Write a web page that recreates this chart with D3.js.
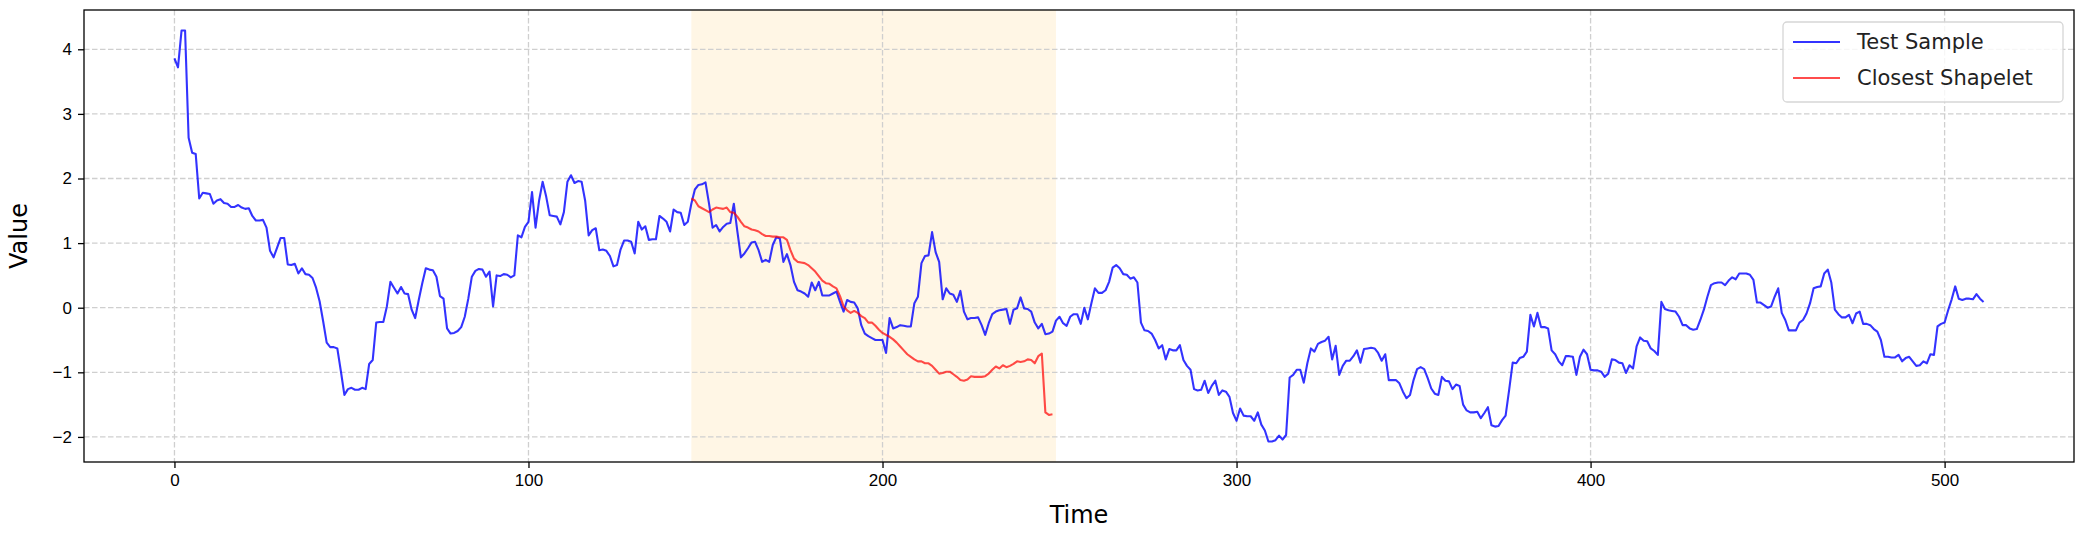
<!DOCTYPE html>
<html>
<head>
<meta charset="utf-8">
<script src="https://cdnjs.cloudflare.com/ajax/libs/d3/7.8.5/d3.min.js"></script>
<style>
  body { margin: 0; background: #fff; }
  svg { display: block; font-family: "DejaVu Sans", sans-serif; }
  .axis text { font-size: 17px; fill: #000; }
  .axis path, .axis line { stroke: #000; stroke-width: 1.3; }
  .grid line { stroke: #cfcfcf; stroke-width: 1.3; stroke-dasharray: 5.5,2.5; }
</style>
</head>
<body>
<script>
// Test sample values, one per time step (0..511)
var sampleValues = [
  3.86, 3.72, 4.29, 4.29, 2.63, 2.40, 2.38, 1.69, 1.78, 1.77,
  1.76, 1.61, 1.66, 1.68, 1.62, 1.61, 1.56, 1.56, 1.59, 1.55,
  1.53, 1.54, 1.42, 1.35, 1.35, 1.36, 1.24, 0.88, 0.78, 0.93,
  1.08, 1.08, 0.67, 0.66, 0.68, 0.53, 0.61, 0.52, 0.51, 0.46,
  0.31, 0.10, -0.21, -0.54, -0.61, -0.61, -0.63, -0.98, -1.35, -1.26,
  -1.24, -1.27, -1.27, -1.24, -1.26, -0.87, -0.81, -0.23, -0.22, -0.22,
  0.02, 0.40, 0.31, 0.22, 0.32, 0.22, 0.21, -0.03, -0.16, 0.12,
  0.38, 0.61, 0.59, 0.58, 0.48, 0.18, 0.14, -0.32, -0.40, -0.39,
  -0.36, -0.30, -0.14, 0.14, 0.48, 0.57, 0.60, 0.59, 0.48, 0.56,
  0.02, 0.50, 0.49, 0.52, 0.51, 0.47, 0.50, 1.12, 1.09, 1.25,
  1.33, 1.79, 1.24, 1.66, 1.95, 1.72, 1.43, 1.42, 1.41, 1.29,
  1.48, 1.95, 2.05, 1.93, 1.96, 1.95, 1.66, 1.12, 1.20, 1.23,
  0.89, 0.90, 0.88, 0.80, 0.64, 0.66, 0.90, 1.04, 1.04, 1.02,
  0.84, 1.33, 1.21, 1.26, 1.05, 1.06, 1.06, 1.42, 1.38, 1.33,
  1.18, 1.52, 1.48, 1.47, 1.28, 1.33, 1.61, 1.83, 1.90, 1.91,
  1.94, 1.61, 1.24, 1.28, 1.18, 1.25, 1.30, 1.31, 1.61, 1.18,
  0.78, 0.84, 0.92, 1.01, 1.02, 0.89, 0.71, 0.74, 0.71, 0.97,
  1.09, 1.07, 0.71, 0.83, 0.66, 0.40, 0.27, 0.25, 0.22, 0.17,
  0.39, 0.27, 0.40, 0.19, 0.19, 0.19, 0.22, 0.25, 0.09, -0.06,
  0.12, 0.09, 0.08, -0.01, -0.27, -0.40, -0.44, -0.47, -0.50, -0.50,
  -0.50, -0.70, -0.16, -0.32, -0.30, -0.27, -0.28, -0.29, -0.29, 0.07,
  0.17, 0.69, 0.80, 0.81, 1.17, 0.86, 0.71, 0.13, 0.30, 0.22,
  0.20, 0.09, 0.26, -0.06, -0.18, -0.16, -0.16, -0.15, -0.27, -0.42,
  -0.24, -0.10, -0.06, -0.04, -0.03, -0.02, -0.25, -0.03, -0.01, 0.16,
  -0.01, -0.02, -0.06, -0.23, -0.32, -0.25, -0.41, -0.40, -0.37, -0.20,
  -0.14, -0.24, -0.28, -0.14, -0.10, -0.10, -0.25, 0.00, -0.18, 0.07,
  0.30, 0.23, 0.23, 0.27, 0.40, 0.62, 0.66, 0.61, 0.52, 0.51,
  0.45, 0.47, 0.39, -0.23, -0.35, -0.36, -0.40, -0.50, -0.63, -0.58,
  -0.80, -0.64, -0.66, -0.66, -0.58, -0.81, -0.90, -0.96, -1.26, -1.28,
  -1.27, -1.13, -1.32, -1.21, -1.13, -1.35, -1.28, -1.30, -1.38, -1.63,
  -1.75, -1.56, -1.67, -1.68, -1.68, -1.75, -1.62, -1.81, -1.90, -2.07,
  -2.07, -2.05, -1.98, -2.04, -1.97, -1.08, -1.04, -0.96, -0.96, -1.16,
  -0.86, -0.63, -0.68, -0.56, -0.53, -0.51, -0.45, -0.80, -0.59, -1.04,
  -0.90, -0.82, -0.82, -0.75, -0.66, -0.85, -0.64, -0.63, -0.62, -0.63,
  -0.70, -0.82, -0.72, -1.12, -1.12, -1.12, -1.17, -1.30, -1.40, -1.35,
  -1.12, -0.95, -0.92, -0.95, -1.09, -1.25, -1.33, -1.35, -1.07, -1.13,
  -1.14, -1.26, -1.19, -1.21, -1.50, -1.59, -1.62, -1.62, -1.61, -1.71,
  -1.63, -1.54, -1.82, -1.84, -1.83, -1.74, -1.67, -1.27, -0.85, -0.86,
  -0.78, -0.76, -0.68, -0.11, -0.29, -0.08, -0.30, -0.30, -0.32, -0.66,
  -0.72, -0.83, -0.89, -0.75, -0.75, -0.76, -1.04, -0.76, -0.65, -0.72,
  -0.96, -0.97, -0.97, -0.99, -1.07, -1.02, -0.80, -0.81, -0.85, -0.86,
  -1.01, -0.89, -0.94, -0.60, -0.46, -0.51, -0.52, -0.63, -0.67, -0.73,
  0.09, -0.02, -0.04, -0.05, -0.06, -0.14, -0.27, -0.27, -0.32, -0.34,
  -0.33, -0.19, -0.03, 0.17, 0.35, 0.38, 0.39, 0.39, 0.35, 0.42,
  0.47, 0.44, 0.53, 0.53, 0.53, 0.51, 0.43, 0.08, 0.08, 0.04,
  0.00, 0.02, 0.17, 0.30, -0.08, -0.19, -0.35, -0.35, -0.35, -0.23,
  -0.19, -0.09, 0.07, 0.30, 0.32, 0.33, 0.53, 0.59, 0.39, -0.03,
  -0.10, -0.15, -0.15, -0.11, -0.24, -0.09, -0.06, -0.25, -0.25, -0.27,
  -0.33, -0.37, -0.50, -0.76, -0.76, -0.77, -0.77, -0.73, -0.83, -0.78,
  -0.76, -0.83, -0.90, -0.89, -0.83, -0.86, -0.72, -0.73, -0.29, -0.25,
  -0.23, -0.04, 0.13, 0.33, 0.14, 0.12, 0.14, 0.14, 0.13, 0.21,
  0.14, 0.09
];

// Closest shapelet, starting at time step 146
var shapeletStart = 146;
var shapeletValues = [
  1.69, 1.66, 1.57, 1.54, 1.51, 1.48, 1.52, 1.55, 1.54, 1.53,
  1.55, 1.48, 1.47, 1.41, 1.33, 1.26, 1.24, 1.21, 1.20, 1.18,
  1.14, 1.11, 1.11, 1.10, 1.10, 1.09, 1.09, 1.05, 0.89, 0.76,
  0.71, 0.70, 0.69, 0.66, 0.61, 0.56, 0.49, 0.42, 0.38, 0.37,
  0.33, 0.30, 0.18, 0.02, -0.04, -0.08, -0.05, -0.08, -0.13, -0.16,
  -0.23, -0.23, -0.28, -0.34, -0.39, -0.42, -0.45, -0.49, -0.54, -0.60,
  -0.66, -0.72, -0.76, -0.80, -0.83, -0.83, -0.86, -0.86, -0.90, -0.96,
  -1.02, -1.01, -0.99, -0.99, -1.03, -1.07, -1.12, -1.13, -1.11, -1.06,
  -1.07, -1.07, -1.07, -1.06, -1.02, -0.96, -0.91, -0.94, -0.89, -0.92,
  -0.90, -0.87, -0.83, -0.84, -0.83, -0.80, -0.81, -0.86, -0.75, -0.71,
  -1.62, -1.66, -1.65
];

// Tick values and legend labels
var xTicks = [0, 100, 200, 300, 400, 500];
var yTicks = [-2, -1, 0, 1, 2, 3, 4];
var seriesNames = ["Test Sample", "Closest Shapelet"];

// Figure size and plot area
var w = 2096;
var h = 536;
var margin = {left: 84, top: 10, right: 22, bottom: 74};
var plotW = w - margin.left - margin.right;
var plotH = h - margin.top - margin.bottom;

var svg = d3.select("body")
    .append("svg")
    .attr("width", w)
    .attr("height", h);

var g = svg.append("g")
    .attr("transform", "translate(" + margin.left + "," + margin.top + ")");

// Domains with a 5% margin like matplotlib does
var n = sampleValues.length;
var xPad = (n - 1) * 0.05;
var allValues = sampleValues.concat(shapeletValues);
var yMin = d3.min(allValues), yMax = d3.max(allValues);
var yPad = (yMax - yMin) * 0.05;

var xScale = d3.scaleLinear()
    .domain([-xPad, n - 1 + xPad])
    .range([0, plotW]);
var yScale = d3.scaleLinear()
    .domain([yMin - yPad, yMax + yPad])
    .range([plotH, 0]);

// Shaded region where the shapelet matches
g.append("rect")
    .attr("x", xScale(shapeletStart))
    .attr("y", 0)
    .attr("width", xScale(shapeletStart + shapeletValues.length) - xScale(shapeletStart))
    .attr("height", plotH)
    .style("fill", "#ffa500")
    .style("fill-opacity", 0.1);

// Dashed grid lines
g.append("g")
    .attr("class", "grid")
    .selectAll("line")
    .data(xTicks)
    .enter().append("line")
    .attr("x1", function(d) { return xScale(d); })
    .attr("x2", function(d) { return xScale(d); })
    .attr("y1", 0)
    .attr("y2", plotH);
g.append("g")
    .attr("class", "grid")
    .selectAll("line")
    .data(yTicks)
    .enter().append("line")
    .attr("x1", 0)
    .attr("x2", plotW)
    .attr("y1", function(d) { return yScale(d); })
    .attr("y2", function(d) { return yScale(d); });

// Lines
var line = d3.line()
    .x(function(d) { return xScale(d[0]); })
    .y(function(d) { return yScale(d[1]); });

var samplePoints = sampleValues.map(function(v, i) { return [i, v]; });
var shapeletPoints = shapeletValues.map(function(v, i) { return [shapeletStart + i, v]; });

g.append("path")
    .datum(samplePoints)
    .attr("d", line)
    .style("fill", "none")
    .style("stroke", "blue")
    .style("stroke-opacity", 0.8)
    .style("stroke-width", 2.1)
    .style("stroke-linejoin", "round");

g.append("path")
    .datum(shapeletPoints)
    .attr("d", line)
    .style("fill", "none")
    .style("stroke", "red")
    .style("stroke-opacity", 0.7)
    .style("stroke-width", 2.1)
    .style("stroke-linejoin", "round");

// Axes
g.append("g")
    .attr("class", "x axis")
    .attr("transform", "translate(0," + plotH + ")")
    .call(d3.axisBottom(xScale).tickValues(xTicks).tickSize(6).tickPadding(6).tickSizeOuter(0));

g.append("g")
    .attr("class", "y axis")
    .call(d3.axisLeft(yScale).tickValues(yTicks).tickSize(6).tickPadding(6).tickSizeOuter(0)
      .tickFormat(function(d) { return d < 0 ? "\u2212" + Math.abs(d) : d; }));

g.selectAll(".axis .domain").remove();

// Frame around the plot
g.append("rect")
    .attr("width", plotW)
    .attr("height", plotH)
    .style("fill", "none")
    .style("stroke", "#000")
    .style("stroke-width", 1.3);

// Axis labels
svg.append("text")
    .attr("x", margin.left + plotW / 2)
    .attr("y", 523)
    .style("text-anchor", "middle")
    .style("font-size", "24px")
    .text("Time");

svg.append("text")
    .attr("transform", "translate(27," + (margin.top + plotH / 2) + ") rotate(-90)")
    .style("text-anchor", "middle")
    .style("font-size", "24px")
    .text("Value");

// Legend
var legendColors = ["blue", "red"];
var legendOpacity = [0.8, 0.7];
var legend = svg.append("g")
    .attr("transform", "translate(1783,22)");

legend.append("rect")
    .attr("width", 280)
    .attr("height", 80)
    .attr("rx", 4)
    .style("fill", "#fff")
    .style("fill-opacity", 0.8)
    .style("stroke", "#d6d6d6")
    .style("stroke-width", 1.3);

var items = legend.selectAll(".item")
    .data(seriesNames)
    .enter().append("g")
    .attr("class", "item")
    .attr("transform", function(d, i) { return "translate(0," + (20 + i * 36) + ")"; });

items.append("line")
    .attr("x1", 10)
    .attr("x2", 57)
    .style("stroke", function(d, i) { return legendColors[i]; })
    .style("stroke-opacity", function(d, i) { return legendOpacity[i]; })
    .style("stroke-width", 2.1);

items.append("text")
    .attr("x", 74)
    .attr("dy", "0.35em")
    .style("font-size", "21px")
    .style("fill", "#222")
    .text(function(d) { return d; });
</script>
</body>
</html>
